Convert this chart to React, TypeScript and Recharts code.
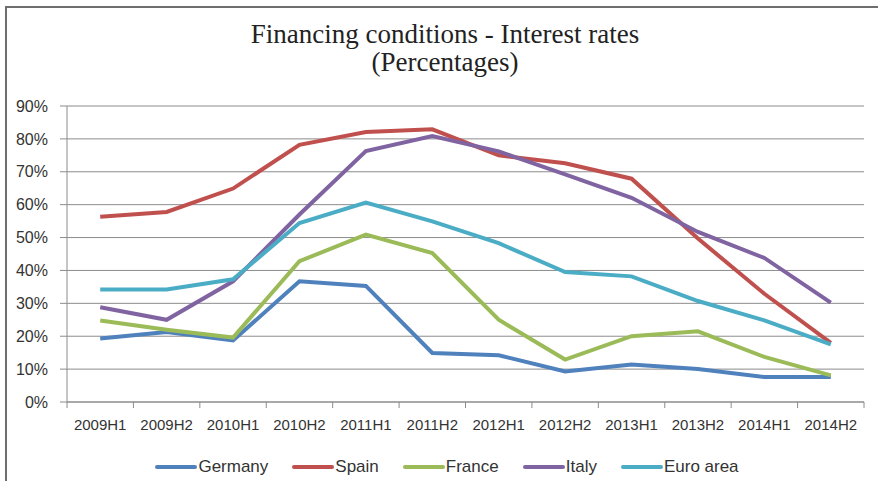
import { LineChart, Line, XAxis, YAxis, CartesianGrid, Legend } from "recharts"

const periods = ["2009H1", "2009H2", "2010H1", "2010H2", "2011H1", "2011H2", "2012H1", "2012H2", "2013H1", "2013H2", "2014H1", "2014H2"]

const germany = [19.3, 21.3, 18.7, 36.7, 35.3, 14.9, 14.2, 9.3, 11.4, 10.0, 7.6, 7.6]
const spain = [56.3, 57.8, 64.9, 78.2, 82.1, 82.9, 75.0, 72.6, 67.9, 49.7, 32.9, 18.0]
const france = [24.8, 22.0, 19.6, 42.8, 50.9, 45.3, 25.0, 12.9, 20.0, 21.5, 13.7, 8.1]
const italy = [28.8, 25.0, 36.7, 57.0, 76.3, 80.9, 76.2, 69.2, 62.1, 51.7, 43.8, 30.2]
const euroArea = [34.2, 34.2, 37.3, 54.4, 60.6, 54.9, 48.3, 39.5, 38.2, 30.7, 24.8, 17.5]

const yTicks = [0, 10, 20, 30, 40, 50, 60, 70, 80, 90]

const series = [
  { key: "germany", name: "Germany", color: "#4F81BD", values: germany },
  { key: "spain", name: "Spain", color: "#C0504D", values: spain },
  { key: "france", name: "France", color: "#9BBB59", values: france },
  { key: "italy", name: "Italy", color: "#8064A2", values: italy },
  { key: "euro", name: "Euro area", color: "#4BACC6", values: euroArea },
]

// x is the slot centre; integer ticks mark the category boundaries (Excel style)
const data = periods.map((p, i) => {
  const row: Record<string, number | string> = { period: p, x: i + 0.5 }
  series.forEach((s) => (row[s.key] = s.values[i]))
  return row
})

const xTicks: number[] = []
for (let i = 0; i <= periods.length * 2; i++) xTicks.push(i / 2)

const font = "'Liberation Sans', Arial, sans-serif"

function XTick(props: any) {
  const { x, y, payload } = props
  const v = payload.value as number
  if (Number.isInteger(v)) {
    return <line x1={x} x2={x} y1={y - 8} y2={y - 2} stroke="#8c8c8c" strokeWidth={1} />
  }
  const label = periods[Math.floor(v)]
  return (
    <text x={x} y={y + 20} textAnchor="middle" fontSize={15} fill="#333" fontFamily={font}>
      {label}
    </text>
  )
}

function LegendBox() {
  return (
    <div style={{ display: "flex", justifyContent: "center", gap: 24, fontFamily: font, fontSize: 17, lineHeight: "20px", color: "#333", paddingLeft: 30, paddingTop: 9 }}>
      {series.map((s) => (
        <div key={s.key} style={{ display: "flex", alignItems: "center" }}>
          <span style={{ display: "inline-block", width: 42, height: 3.5, background: s.color, borderRadius: 2, marginRight: 1 }} />
          <span>{s.name}</span>
        </div>
      ))}
    </div>
  )
}

export default function App() {
  return (
    <div style={{ position: "fixed", left: 0, top: 0, width: 878, height: 481, background: "#fff" }}>
      <div style={{ position: "absolute", left: 0, top: 20, width: 890, textAlign: "center", fontFamily: "'Liberation Serif', 'DejaVu Serif', serif", fontSize: 27, lineHeight: "28px", color: "#222" }}>
        <div>Financing conditions - Interest rates</div>
        <div>(Percentages)</div>
      </div>
      <div style={{ position: "absolute", left: 0, top: 0 }}>
        <LineChart width={878} height={481} data={data} margin={{ top: 106, right: 14, bottom: 0, left: 0 }}>
          <CartesianGrid vertical={false} stroke="#8c8c8c" strokeWidth={1} />
          <XAxis
            dataKey="x"
            type="number"
            domain={[0, periods.length]}
            ticks={xTicks}
            interval={0}
            height={46}
            tickLine={false}
            axisLine={{ stroke: "#8c8c8c" }}
            tick={<XTick />}
          />
          <YAxis
            width={67}
            domain={[0, 90]}
            ticks={yTicks}
            interval={0}
            tickSize={7}
            tickMargin={12}
            tickFormatter={(v) => `${v}%`}
            tick={{ fontSize: 16, fill: "#333", fontFamily: font }}
            tickLine={{ stroke: "#8c8c8c" }}
            axisLine={{ stroke: "#8c8c8c" }}
          />
          <Legend verticalAlign="bottom" height={33} content={<LegendBox />} />
          {series.map((s) => (
            <Line
              key={s.key}
              dataKey={s.key}
              name={s.name}
              stroke={s.color}
              strokeWidth={4}
              dot={false}
              activeDot={false}
              isAnimationActive={false}
            />
          ))}
        </LineChart>
      </div>
      <svg width={878} height={481} style={{ position: "absolute", left: 0, top: 0, zIndex: 5, pointerEvents: "none" }}>
        <path d="M6 481 V7 H878" fill="none" stroke="#6e6e6e" strokeWidth={2} />
      </svg>
    </div>
  )
}
